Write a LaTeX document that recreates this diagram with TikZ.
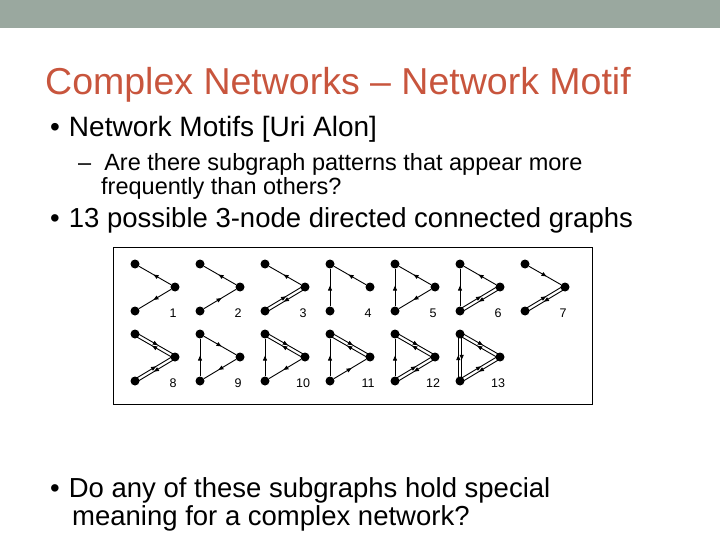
\documentclass[tikz,border=0pt]{standalone}
\usepackage{fontspec}
\setmainfont{Liberation Sans}
\usetikzlibrary{calc,decorations.markings,arrows.meta}
\definecolor{bar}{HTML}{9AA89F}
\definecolor{ttl}{HTML}{C8553D}
\tikzset{
  dot/.style={circle,fill=black,inner sep=0pt,minimum size=9pt},
  mid/.style={postaction={decorate},decoration={markings,mark=at position 0.55 with {\arrow{Triangle[length=5pt,width=4pt]}}}},
  edge/.style={line width=0.9pt},
  lbl/.style={font=\fontsize{12.5}{12.5}\selectfont,inner sep=0pt}
}
\newcommand{\one}[2]{\draw[edge,mid] (#1) -- (#2);}
\newcommand{\two}[2]{\draw[edge,mid] ($(#1)!1.7pt!90:(#2)$) -- ($(#2)!1.7pt!-90:(#1)$);
  \draw[edge,mid] ($(#2)!1.7pt!90:(#1)$) -- ($(#1)!1.7pt!-90:(#2)$);}
\begin{document}
\begin{tikzpicture}[x=1pt,y=-1pt]
\useasboundingbox (0,0) rectangle (720,540);
\fill[bar] (0,0) rectangle (720,28);
\node[anchor=base west,text=ttl,font=\fontsize{37.5}{37.5}\selectfont,inner sep=0pt] (title) at (45,95) {Complex Networks -- Network Motif};
\node[anchor=base west,font=\fontsize{28}{28}\selectfont,inner sep=0pt] (b1) at (50,137) {\textbullet\hspace{9pt}Network Motifs [Uri Alon]};
\node[anchor=north west,align=left,font=\fontsize{23.5}{24}\selectfont,inner sep=0pt] (b1a) at (78,153) {--\ \ Are there subgraph patterns that appear more\\\hspace*{23pt}frequently than others?};
\node[anchor=base west,font=\fontsize{27.5}{27.5}\selectfont,inner sep=0pt] (b2) at (50,227) {\textbullet\hspace{9pt}13 possible 3-node directed connected graphs};
\node[anchor=north west,align=left,font=\fontsize{27.5}{28}\selectfont,inner sep=0pt] (b3) at (50,477) {\textbullet\hspace{9pt}Do any of these subgraphs hold special\\\hspace*{22pt}meaning for a complex network?};
\node[draw,line width=1pt,minimum width=479pt,minimum height=157pt,anchor=north west,inner sep=0pt] (box) at (113,247) {};
\foreach \n/\c/\r in {1/0/0,2/1/0,3/2/0,4/3/0,5/4/0,6/5/0,7/6/0,8/0/1,9/1/1,10/2/1,11/3/1,12/4/1,13/5/1}{
  \pgfmathsetmacro{\xx}{135+65*\c}
  \pgfmathsetmacro{\yy}{264+70*\r}
  \node[dot] (t\n) at (\xx,\yy) {};
  \node[dot] (r\n) at (\xx+40,\yy+23) {};
  \node[dot] (b\n) at (\xx,\yy+47) {};
  \node[lbl] (l\n) at (\xx+38,\yy+49) {\n};
}
\one{r1}{t1}\one{r1}{b1}
\one{r2}{t2}\one{b2}{r2}
\one{r3}{t3}\two{r3}{b3}
\one{r4}{t4}\one{b4}{t4}
\one{r5}{t5}\one{r5}{b5}\one{b5}{t5}
\one{r6}{t6}\two{r6}{b6}\one{b6}{t6}
\one{t7}{r7}\two{r7}{b7}
\two{t8}{r8}\two{r8}{b8}
\one{t9}{r9}\one{r9}{b9}\one{b9}{t9}
\two{t10}{r10}\one{r10}{b10}\one{b10}{t10}
\two{t11}{r11}\one{b11}{r11}\one{b11}{t11}
\two{t12}{r12}\two{r12}{b12}\one{b12}{t12}
\two{t13}{r13}\two{r13}{b13}\two{b13}{t13}
\end{tikzpicture}
\end{document}
